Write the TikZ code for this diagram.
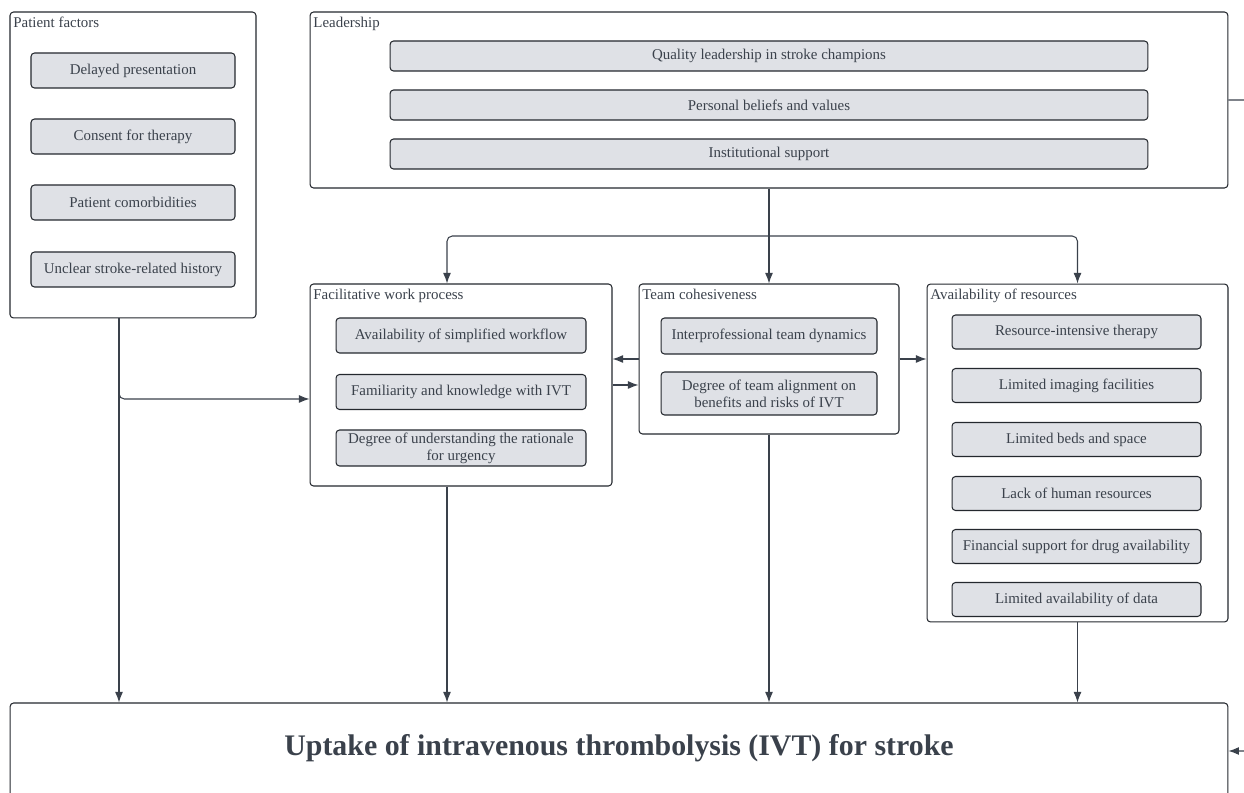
\documentclass[tikz,border=0pt]{standalone}
\usepackage{fontspec}
\setmainfont{Liberation Serif}
\usetikzlibrary{arrows.meta,calc}

\definecolor{inktxt}{HTML}{3A414B}
\definecolor{itemfill}{HTML}{DFE1E6}
\definecolor{frameline}{HTML}{24282E}

\tikzset{
  groupbox/.style={draw=frameline, line width=0.6pt, rounded corners=2pt, inner sep=0pt},
  itembox/.style={draw=frameline, fill=itemfill, line width=0.6pt, rounded corners=2pt,
    text=inktxt, font=\fontsize{8.5}{9.6}\selectfont, align=center, inner sep=0.5pt},
  grouplabel/.style={anchor=north west, text=inktxt, font=\fontsize{8.5}{10}\selectfont,
    inner xsep=2pt, inner ysep=3pt},
  link/.style={draw=inktxt, line width=0.6pt, -{Latex[length=6pt,width=4.5pt]}}
}

\begin{document}
\begin{tikzpicture}[x=0.02cm,y=-0.02cm]
  \useasboundingbox (0,0) rectangle (1244,793);

  % patient factors
  \node[groupbox, minimum width=4.92cm, minimum height=6.12cm] (pat) at (133,165) {};
  \node[grouplabel] (patlbl) at (pat.north west) {Patient factors};
  \node[itembox, minimum width=4.08cm, minimum height=0.7cm] (pat1) at (133,70.5) {Delayed presentation};
  \node[itembox, minimum width=4.08cm, minimum height=0.7cm] (pat2) at (133,136.5) {Consent for therapy};
  \node[itembox, minimum width=4.08cm, minimum height=0.7cm] (pat3) at (133,202.5) {Patient comorbidities};
  \node[itembox, minimum width=4.08cm, minimum height=0.7cm] (pat4) at (133,269.5) {Unclear stroke-related history};

  % leadership
  \node[groupbox, minimum width=18.36cm, minimum height=3.52cm] (lead) at (769,100) {};
  \node[grouplabel] (leadlbl) at (lead.north west) {Leadership};
  \node[itembox, minimum width=15.16cm, minimum height=0.6cm] (lead1) at (769,56) {Quality leadership in stroke champions};
  \node[itembox, minimum width=15.16cm, minimum height=0.6cm] (lead2) at (769,105) {Personal beliefs and values};
  \node[itembox, minimum width=15.16cm, minimum height=0.6cm] (lead3) at (769,154) {Institutional support};

  % facilitative work process
  \node[groupbox, minimum width=6.04cm, minimum height=4.04cm] (fwp) at (461,385) {};
  \node[grouplabel] (fwplbl) at (fwp.north west) {Facilitative work process};
  \node[itembox, minimum width=5cm, minimum height=0.7cm] (fwp1) at (461,335.5) {Availability of simplified workflow};
  \node[itembox, minimum width=5cm, minimum height=0.7cm] (fwp2) at (461,392) {Familiarity and knowledge with IVT};
  \node[itembox, minimum width=5cm, minimum height=0.72cm] (fwp3) at (461,448) {Degree of understanding the rationale\\for urgency};

  % team cohesiveness
  \node[groupbox, minimum width=5.2cm, minimum height=3cm] (team) at (769,359) {};
  \node[grouplabel] (teamlbl) at (team.north west) {Team cohesiveness};
  \node[itembox, minimum width=4.32cm, minimum height=0.72cm] (team1) at (769,336) {Interprofessional team dynamics};
  \node[itembox, minimum width=4.32cm, minimum height=0.86cm] (team2) at (769,393.5) {Degree of team alignment on\\benefits and risks of IVT};

  % availability of resources
  \node[groupbox, minimum width=6.02cm, minimum height=6.76cm] (avail) at (1077.5,453) {};
  \node[grouplabel] (availlbl) at (avail.north west) {Availability of resources};
  \node[itembox, minimum width=4.98cm, minimum height=0.68cm] (avail1) at (1076.5,332) {Resource-intensive therapy};
  \node[itembox, minimum width=4.98cm, minimum height=0.68cm] (avail2) at (1076.5,385.5) {Limited imaging facilities};
  \node[itembox, minimum width=4.98cm, minimum height=0.68cm] (avail3) at (1076.5,439.5) {Limited beds and space};
  \node[itembox, minimum width=4.98cm, minimum height=0.68cm] (avail4) at (1076.5,493.5) {Lack of human resources};
  \node[itembox, minimum width=4.98cm, minimum height=0.68cm] (avail5) at (1076.5,546.5) {Financial support for drug availability};
  \node[itembox, minimum width=4.98cm, minimum height=0.68cm] (avail6) at (1076.5,599.5) {Limited availability of data};

  % outcome
  \node[groupbox, minimum width=24.36cm, minimum height=2.6cm] (upt) at (619,768) {};
  \node[text=inktxt, font=\fontsize{17}{20}\selectfont\bfseries] (upttitle) at (619,748)
    {Uptake of intravenous thrombolysis (IVT) for stroke};

  % connectors
  \coordinate (split) at ($(lead.south)!0.5!(team.north)$);
  \coordinate (patout) at ([xshift=-0.28cm]pat.south);
  \draw[link] (lead.south) -- (team.north);
  \draw[link,rounded corners=3pt] (split) -| ([xshift=-0.28cm]fwp.north);
  \draw[link,rounded corners=3pt] (split) -| (avail.north);
  \draw[link] (patout) -- (patout |- upt.north);
  \draw[link,rounded corners=3pt] (patout) |- ([yshift=-0.28cm]fwp.west);
  \draw[link] ([xshift=-0.28cm]fwp.south) -- ([xshift=-0.28cm]fwp.south |- upt.north);
  \draw[link] (team.south) -- (team.south |- upt.north);
  \draw[link] (avail.south) -- (avail.south |- upt.north);
  \draw[link] (team.west) -- (team.west -| fwp.east);
  \draw[link] (fwp.east) -- (fwp.east -| team.west);
  \draw[link] (team.east) -- (team.east -| avail.west);
  \draw[link,rounded corners=3pt] (lead.east) -- ++(1cm,0) |- ([yshift=-0.06cm]upttitle -| upt.east);
\end{tikzpicture}
\end{document}
